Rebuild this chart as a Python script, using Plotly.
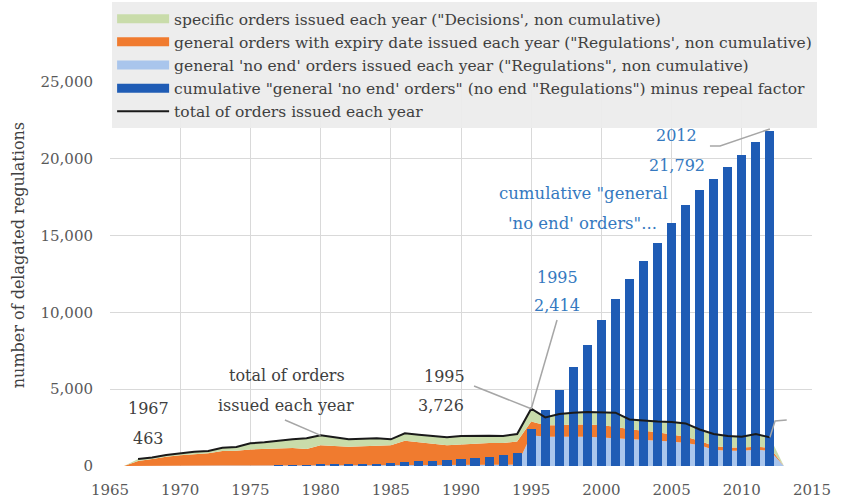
import plotly.graph_objects as go

# ---------------- data ----------------
years = list(range(1967, 2013))

total_orders = [463, 560, 715, 825, 930, 975, 1190, 1235, 1475, 1540,
                1645, 1735, 1800, 1995, 1865, 1735, 1780, 1800, 1735, 2125,
                2040, 1950, 1865, 1950, 1970, 1970, 1950, 2080, 3726, 3160,
                3380, 3470, 3510, 3510, 3470, 3030, 2945, 2900, 2860, 2770,
                2380, 2080, 1950, 1905, 2080, 1864]

no_end_annual = [10, 10, 15, 15, 20, 20, 25, 25, 30, 30,
                 35, 35, 40, 40, 45, 45, 50, 50, 55, 60,
                 60, 65, 70, 70, 75, 80, 80, 90, 2000, 1900,
                 1900, 1900, 1900, 1850, 1800, 1750, 1700, 1650, 1600, 1500,
                 1350, 1050, 1000, 1000, 1050, 1000]

expiry_annual = [320, 440, 585, 685, 760, 810, 955, 975, 1050, 1070,
                 1115, 1145, 1060, 1310, 1255, 1205, 1230, 1250, 1295, 1590,
                 1490, 1385, 1280, 1330, 1375, 1420, 1420, 1510, 900, 750,
                 750, 800, 800, 800, 750, 650, 600, 550, 450, 400,
                 300, 250, 200, 200, 200, 200]

specific_annual = [133, 110, 115, 125, 150, 145, 210, 235, 395, 440,
                   495, 555, 700, 645, 565, 485, 500, 500, 385, 475,
                   490, 500, 515, 550, 520, 470, 450, 480, 826, 510,
                   730, 770, 810, 860, 920, 630, 645, 700, 810, 870,
                   730, 780, 750, 705, 830, 664]

cumulative_no_end = [0, 0, 0, 0, 0, 0, 0, 0, 0, 0,
                     30, 45, 60, 80, 95, 110, 130, 160, 200, 260,
                     300, 346, 390, 433, 545, 610, 740, 840, 2414, 3635,
                     4935, 6430, 7860, 9480, 10845, 12190, 13335, 14545, 15820, 16990,
                     17990, 18680, 19440, 20240, 21105, 21792]

x_ticks = [1965, 1970, 1975, 1980, 1985, 1990, 1995, 2000, 2005, 2010, 2015]
y_ticks = [0, 5000, 10000, 15000, 20000, 25000]

legend_names = [
    "specific orders issued each year (\"Decisions', non cumulative)",
    "general orders with expiry date issued each year (\"Regulations', non cumulative)",
    "general 'no end' orders issued each year (\"Regulations\", non cumulative)",
    "cumulative \"general 'no end' orders\" (no end \"Regulations\") minus repeal factor",
    "total of orders issued each year",
]

# ---------------- styling ----------------
C_GREEN = "#c9dcaa"
C_ORANGE = "#f07b2f"
C_LBLUE = "#a9c5ec"
C_DBLUE = "#1f5cb5"
C_LINE = "#1a1a1a"
C_GREY_TXT = "#404040"
C_BLUE_TXT = "#3579c0"
C_GRID = "#d9d9d9"
FONT = "DejaVu Serif"

area_x = [years[0] - 1] + years + [years[-1] + 1]


def padded(vals):
    return [0] + list(vals) + [0]


fig = go.Figure()

# stacked areas (drawn underneath, on primary axes)
for vals, col in [(no_end_annual, C_LBLUE), (expiry_annual, C_ORANGE), (specific_annual, C_GREEN)]:
    fig.add_trace(go.Scatter(
        x=area_x, y=padded(vals), stackgroup="one", mode="lines",
        line=dict(width=0, color=col), fillcolor=col,
        showlegend=False, hoverinfo="skip"))

# bars and total line on overlaying axes so they sit above the areas
fig.add_trace(go.Bar(
    x=years, y=cumulative_no_end, width=0.65, marker=dict(color=C_DBLUE, line=dict(width=0)),
    showlegend=False, xaxis="x2", yaxis="y2"))
fig.add_trace(go.Scatter(
    x=years, y=total_orders, mode="lines", line=dict(color=C_LINE, width=2),
    showlegend=False, xaxis="x2", yaxis="y2"))

# legend entries (wide colour swatches like the original)
for name, col, w in zip(legend_names, [C_GREEN, C_ORANGE, C_LBLUE, C_DBLUE, C_LINE], [9, 9, 9, 9, 2]):
    fig.add_trace(go.Scatter(x=[None], y=[None], mode="lines", name=name,
                             line=dict(color=col, width=w), showlegend=True))

xr = [1965, 2015]
yr = [0, 25000]

axis_common = dict(showline=False, zeroline=False, ticks="",
                   tickfont=dict(family=FONT, size=15, color="#595959"))

fig.update_layout(
    width=849, height=498,
    margin=dict(l=110, r=37, t=82, b=32, autoexpand=False),
    paper_bgcolor="white", plot_bgcolor="white",
    font=dict(family=FONT, color=C_GREY_TXT),
    bargap=0,
    showlegend=True,
    legend=dict(x=0.003, y=1.208, xanchor="left", yanchor="top",
                bgcolor="rgba(236,236,236,0.95)", borderwidth=0,
                font=dict(family=FONT, size=15.5, color="#404040"),
                itemwidth=52, tracegroupgap=0, traceorder="normal"),
    xaxis=dict(range=xr, tickvals=x_ticks, showgrid=True, gridcolor=C_GRID, gridwidth=1,
               ticklabelstandoff=13, **axis_common),
    yaxis=dict(range=yr, tickvals=y_ticks, tickformat=",", showgrid=True, gridcolor=C_GRID,
               gridwidth=1, ticklabelstandoff=16, **axis_common),
    xaxis2=dict(range=xr, overlaying="x", visible=False),
    yaxis2=dict(range=yr, overlaying="y", visible=False),
)


def label(x, y, text, color, size=16):
    fig.add_annotation(x=x, y=y, xref="x", yref="y", text=text, showarrow=False,
                       font=dict(family=FONT, size=size, color=color),
                       xanchor="center", yanchor="middle")


def leader(points, color="#a6a6a6"):
    path = "M " + " L ".join(f"{px},{py}" for px, py in points)
    fig.add_shape(type="path", path=path, xref="x", yref="y",
                  line=dict(color=color, width=1.5), layer="above")


yi = {y: i for i, y in enumerate(years)}

label(1967.71, 3776, "1967", C_GREY_TXT)
label(1967.71, 1823, f"{total_orders[yi[1967]]:,}", C_GREY_TXT)

label(1977.6, 5924, "total of orders", C_GREY_TXT)
label(1977.54, 3971, "issued each year", C_GREY_TXT)
leader([(1977.46, 2995), (1980, total_orders[yi[1980]])])

label(1988.79, 5859, "1995", C_GREY_TXT)
label(1988.57, 3971, f"{total_orders[yi[1995]]:,}", C_GREY_TXT)
leader([(1990.93, 5208), (1995, total_orders[yi[1995]])])

label(1996.84, 12304, "1995", C_BLUE_TXT)
label(1996.84, 10481, f"{cumulative_no_end[yi[1995]]:,}", C_BLUE_TXT)
leader([(1996.84, 9505), (1995, total_orders[yi[1995]] - 20)])

label(1998.69, 17772, "cumulative \"general", C_BLUE_TXT, 16.5)
label(1998.62, 15819, "'no end' orders\"...", C_BLUE_TXT, 16.5)

label(2005.38, 21548, "2012", C_BLUE_TXT)
label(2005.38, 19595, f"{cumulative_no_end[yi[2012]]:,}", C_BLUE_TXT)
leader([(2007.73, 20832), (2008.45, 20832), (2012, cumulative_no_end[yi[2012]] + 150)])

label(2015.07, 3711, "2012", C_GREY_TXT)
label(2015.21, 1823, f"{total_orders[yi[2012]]:,}", C_GREY_TXT)
leader([(2013.2, 2995), (2012.37, 2930), (2012, total_orders[yi[2012]])])

# y-axis title
fig.add_annotation(x=-0.131, y=0.549, xref="paper", yref="paper",
                   text="number of delagated regulations", textangle=-90,
                   showarrow=False, font=dict(family=FONT, size=16, color=C_GREY_TXT),
                   xanchor="center", yanchor="middle")

fig.write_html("out.html", config={"displayModeBar": False},
               post_script="document.body.style.margin='0';")
